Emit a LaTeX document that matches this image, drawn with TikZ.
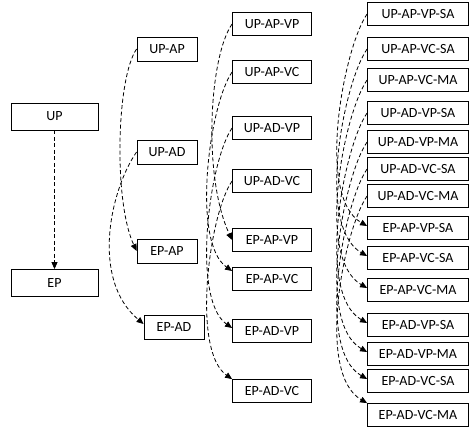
\documentclass[tikz,border=0pt]{standalone}
\usepackage{fontspec}
\setmainfont{Carlito}
\usetikzlibrary{arrows.meta}
\begin{document}
\begin{tikzpicture}[x=1pt,y=1pt,
  box/.style={draw=black, line width=0.8pt, fill=white, inner sep=0pt, minimum height=23pt, font=\fontsize{14}{16}\selectfont},
  c1/.style={box, minimum width=87pt, minimum height=27pt},
  c2/.style={box, minimum width=60pt, minimum height=24pt},
  c3/.style={box, minimum width=79pt},
  c4/.style={box, minimum width=101pt},
  link/.style={line width=0.8pt, dash pattern=on 4pt off 2.5pt, -{Triangle[length=7pt,width=6pt]}},
  arcA/.style={out=235, in=115, out distance=35pt, in distance=55pt},
  arcB/.style={out=235, in=140, out distance=45pt, in distance=70pt},
  arcC/.style={out=235, in=115, out distance=40pt, in distance=70pt},
  arcD/.style={out=235, in=145, out distance=40pt, in distance=50pt},
  arcE/.style={out=235, in=150, out distance=40pt, in distance=60pt},
]
\useasboundingbox (0,0) rectangle (472,430);
% column 1
\node[c1] (up) at (54.5,313.5) {UP};
\node[c1] (ep) at (54.5,147) {EP};
% column 2
\node[c2] (upap) at (167,381) {UP-AP};
\node[c2] (upad) at (167,278) {UP-AD};
\node[c2] (epap) at (167,179) {EP-AP};
\node[c2] (epad) at (174,103) {EP-AD};
% column 3
\node[c3] (upapvp) at (272,406) {UP-AP-VP};
\node[c3] (upapvc) at (272,358) {UP-AP-VC};
\node[c3] (upadvp) at (272,302) {UP-AD-VP};
\node[c3] (upadvc) at (272,249) {UP-AD-VC};
\node[c3] (epapvp) at (272,190) {EP-AP-VP};
\node[c3] (epapvc) at (272,151) {EP-AP-VC};
\node[c3] (epadvp) at (272,99) {EP-AD-VP};
\node[c3] (epadvc) at (272,39) {EP-AD-VC};
% column 4
\node[c4] (a1) at (418,416) {UP-AP-VP-SA};
\node[c4] (a2) at (418,381) {UP-AP-VC-SA};
\node[c4] (a3) at (418,350) {UP-AP-VC-MA};
\node[c4] (a4) at (418,317) {UP-AD-VP-SA};
\node[c4] (a5) at (418,288) {UP-AD-VP-MA};
\node[c4] (a6) at (418,261) {UP-AD-VC-SA};
\node[c4] (a7) at (418,234) {UP-AD-VC-MA};
\node[c4] (b1) at (418,202) {EP-AP-VP-SA};
\node[c4] (b2) at (418,172) {EP-AP-VC-SA};
\node[c4] (b3) at (418,140) {EP-AP-VC-MA};
\node[c4] (b4) at (418,105) {EP-AD-VP-SA};
\node[c4] (b5) at (418,76) {EP-AD-VP-MA};
\node[c4] (b6) at (418,49) {EP-AD-VC-SA};
\node[c4] (b7) at (418,15) {EP-AD-VC-MA};
% connectors
\draw[link] (up) -- (ep);
\draw[link] (upap.west) to[arcA] (epap.west);
\draw[link] (upad.west) to[arcB] ([yshift=3pt]epad.west);
\draw[link] (upapvp.west) to[arcC] (epapvp.west);
\draw[link] (upapvc.west) to[arcD] ([yshift=8pt]epapvc.west);
\draw[link] (upadvp.west) to[arcD] ([yshift=3pt]epadvp.west);
\draw[link] (upadvc.west) to[arcD] (epadvc.north west);
\draw[link] (a1.west) to[arcE] ([yshift=2pt]b1.west);
\draw[link] (a2.west) to[arcE] ([yshift=2pt]b2.west);
\draw[link] (a3.west) to[arcE] ([yshift=2pt]b3.west);
\draw[link] (a4.west) to[arcE] ([yshift=2pt]b4.west);
\draw[link] (a5.west) to[arcE] ([yshift=2pt]b5.west);
\draw[link] (a6.west) to[arcE] ([yshift=2pt]b6.west);
\draw[link] (a7.west) to[arcE] (b7.north west);
\end{tikzpicture}
\end{document}
